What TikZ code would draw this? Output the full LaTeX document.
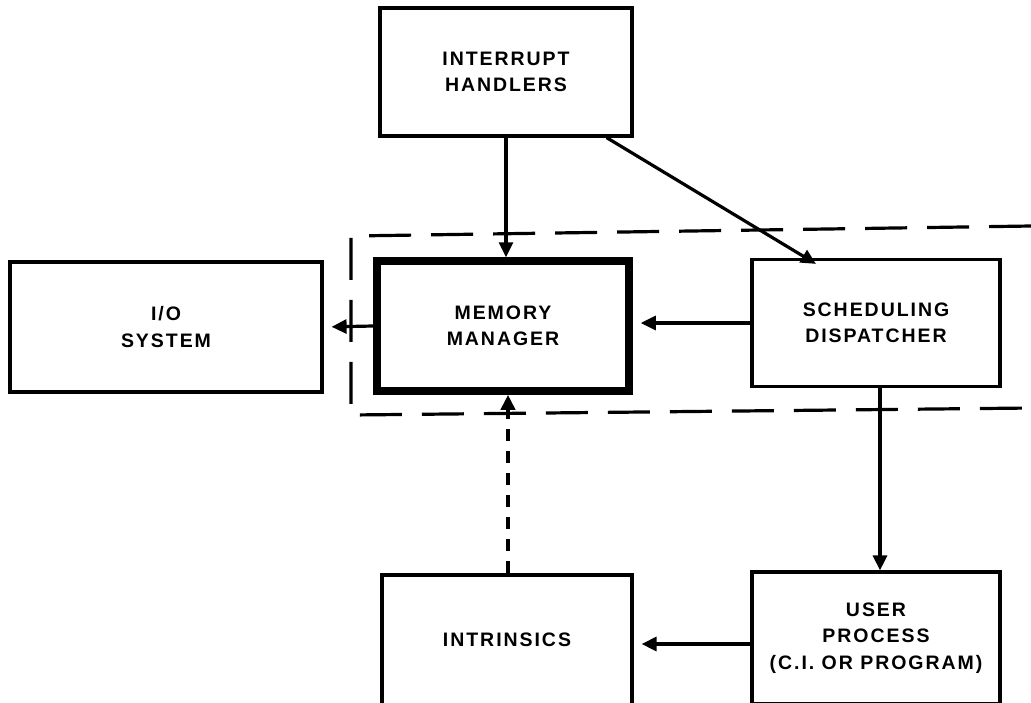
\documentclass[tikz,border=0pt]{standalone}
\usepackage{fontspec}
\setmainfont{Liberation Sans}[LetterSpace=10]
\usetikzlibrary{arrows.meta}
\begin{document}
\begin{tikzpicture}[x=1pt,y=-1pt,
  blk/.style={draw, line width=3.2pt, inner sep=0pt, align=center,
    font=\fontsize{19.5}{26.5}\selectfont\bfseries},
  conn/.style={line width=3.2pt, -{Triangle[length=15pt,width=14pt]}},
  dconn/.style={conn, dash pattern=on 12pt off 10pt, line width=3.8pt},
  region/.style={line width=3.2pt, dash pattern=on 42pt off 20pt}]
\useasboundingbox (0,0) rectangle (1031,702);
\node[blk, minimum width=252pt, minimum height=128pt] (intr) at (506,72) {INTERRUPT\\HANDLERS};
\node[blk, line width=7.5pt, minimum width=252pt, minimum height=130pt] (mem) at (503,326) {MEMORY\\MANAGER};
\node[blk, minimum width=248pt, minimum height=127pt] (sched) at (876,323) {SCHEDULING\\DISPATCHER};
\node[blk, minimum width=312pt, minimum height=130pt] (io) at (166,327) {I/O\\SYSTEM};
\node[blk, minimum width=250pt, minimum height=130pt] (intrin) at (507,640) {INTRINSICS};
\node[blk, minimum width=248pt, minimum height=132pt] (user) at (876,638) {USER\\PROCESS\\(C.I. OR PROGRAM)};
% dashed region
\coordinate (rtop) at (1031,226);
\coordinate (ltop) at (351,236);
\coordinate (lbot) at (351,415);
\coordinate (rbot) at (1031,408);
\draw[region] (rtop) -- (ltop) -- (lbot) -- (rbot);
% connectors
\draw[conn] (intr.south -| mem.north) ++(3,0) coordinate (a1) -- (a1 |- mem.north);
\draw[conn] ([xshift=-27pt]intr.south east) -- ([xshift=-60pt,yshift=-6pt]sched.north);
\draw[conn, shorten >=8pt] (mem.west) -- (io.east);
\draw[conn, shorten >=8pt] (sched.west) -- (sched.west -| mem.east);
\draw[conn] (sched.south) ++(4,0) coordinate (a2) -- (a2 |- user.north);
\draw[dconn] (intrin.north) ++(1,0) coordinate (a3) -- (a3 |- mem.south);
\draw[conn, shorten >=8pt] ([yshift=-6pt]user.west) -- ([yshift=-6pt]user.west -| intrin.east);
\end{tikzpicture}
\end{document}
